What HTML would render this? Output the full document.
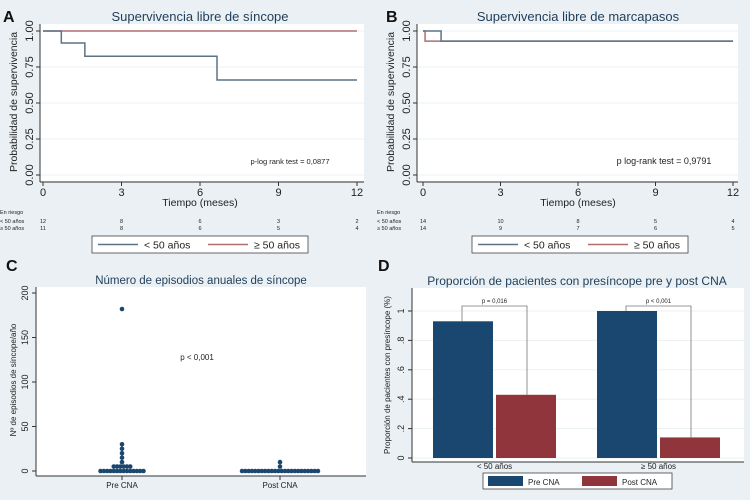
<!DOCTYPE html>
<html><head><meta charset="utf-8">
<style>
html,body{margin:0;padding:0;background:#eaf0f3;}
svg{display:block;font-family:"Liberation Sans",Arial,sans-serif;}
</style></head>
<body>
<svg id="fig" width="750" height="500" viewBox="0 0 750 500"></svg>
<script>
// ---- Data ----
// Panel A (Kaplan-Meier: syncope-free survival)
const kmA_young_t = [0, 0.7, 1.6, 6.65, 12];
const kmA_young_s = [1, 0.917, 0.825, 0.66, 0.66];
const kmA_old_t = [0, 12];
const kmA_old_s = [1, 1];
const riskA_young = [12, 8, 6, 3, 2];
const riskA_old = [11, 8, 6, 5, 4];
// Panel B (pacemaker-free survival)
const kmB_young_t = [0, 0.7, 12];
const kmB_young_s = [1, 0.93, 0.93];
const kmB_old_t = [0, 0.08, 12];
const kmB_old_s = [1, 0.93, 0.93];
const riskB_young = [14, 10, 8, 5, 4];
const riskB_old = [14, 9, 7, 6, 5];
const timeTicks = [0, 3, 6, 9, 12];
const survTicks = [0, 0.25, 0.5, 0.75, 1];
const survTickLabels = ["0.00", "0.25", "0.50", "0.75", "1.00"];
// Panel C (dot plot)
const dotCategories = ["Pre CNA", "Post CNA"];
const preValues = [0,0,0,0,0,0,0,0,0,0,0,0,0,0,5,5,5,5,5,5,10,15,20,25,30,182];
const postValues = [0,0,0,0,0,0,0,0,0,0,0,0,0,0,0,0,0,0,0,0,0,0,0,0,5,10];
const countTicks = [0, 50, 100, 150, 200];
// Panel D (bars)
const barCategories = ["< 50 años", "\u2265 50 años"];
const preProp = [0.93, 1.0];
const postProp = [0.43, 0.14];
const pLabels = ["p = 0,016", "p < 0,001"];
const propTicks = [0, 0.2, 0.4, 0.6, 0.8, 1];
const propTickLabels = ["0", ".2", ".4", ".6", ".8", "1"];

const NS = "http://www.w3.org/2000/svg";
const svg = document.getElementById("fig");
function mk(tag, attrs, parent, txt) {
  const e = document.createElementNS(NS, tag);
  for (const k in attrs) e.setAttribute(k, attrs[k]);
  if (txt !== undefined) e.textContent = txt;
  (parent || svg).appendChild(e);
  return e;
}
const NAVY = "#1a476f", RED = "#90353b", KMG = "#5d7384", KMR = "#b06e6e", TXT = "#222";

function kmPanel(o) {
  const g = mk("g", {});
  
  
  const x = t => o.x0 + (t / 12) * (o.x1 - o.x0);
  const y = s => o.y0 - s * (o.y0 - o.y1);
  let e = mk("rect", {x: o.px0, y: 24, width: o.px1 - o.px0, height: 157, fill: "#fff"}, g);
  
  
  survTicks.forEach((s, i) => {
    e = mk("line", {x1: o.px0, x2: o.px1, y1: y(s), y2: y(s), stroke: "#eaf0f3", "stroke-width": 1}, g);
    
    
    mk("line", {x1: o.px0 - 4, x2: o.px0, y1: y(s), y2: y(s), stroke: "#333"}, g);
    e = mk("text", {x: o.px0 - 7, y: y(s), "font-size": 11, fill: TXT, "text-anchor": "middle",
      transform: `rotate(-90 ${o.px0 - 7} ${y(s)})`}, g, survTickLabels[i]);
    
    
  });
  mk("line", {x1: o.px0, x2: o.px0, y1: 24, y2: 182, stroke: "#333"}, g);
  mk("line", {x1: o.px0, x2: o.px1, y1: 182, y2: 182, stroke: "#333"}, g);
  timeTicks.forEach(t => {
    mk("line", {x1: x(t), x2: x(t), y1: 182, y2: 186, stroke: "#333"}, g);
    e = mk("text", {x: x(t), y: 196, "font-size": 11, fill: TXT, "text-anchor": "middle"}, g, t);
    
    
  });
  e = mk("text", {x: (o.x0 + o.x1) / 2, y: 206, "font-size": 10.5, fill: TXT, "text-anchor": "middle"}, g, "Tiempo (meses)");
  
  
  e = mk("text", {x: o.px0 - 23, y: 102, "font-size": 10.5, fill: TXT, "text-anchor": "middle",
    transform: `rotate(-90 ${o.px0 - 23} 102)`}, g, "Probabilidad de supervivencia");
  
  
  e = mk("text", {x: (o.x0 + o.x1) / 2, y: 21, "font-size": 13, fill: "#1f3e5a", "text-anchor": "middle"}, g, o.title);
  
  
  e = mk("text", {x: o.lx, y: 22, "font-size": 16, "font-weight": "bold", fill: "#111"}, g, o.letter);
  
  
  e = mk("text", {x: o.px, y: 164, "font-size": o.pfs, fill: TXT, "text-anchor": "middle"}, g, o.ptext);
  
  
  function step(ts, ss, col, nm) {
    let d = `M${x(ts[0])},${y(ss[0])}`;
    for (let i = 1; i < ts.length; i++) d += ` H${x(ts[i])} V${y(ss[i])}`;
    const p = mk("path", {d, fill: "none", stroke: col, "stroke-width": 1.5}, g);
    
    
  }
  step(o.oldT, o.oldS, KMR, "km-curve-50-plus");
  step(o.youngT, o.youngS, KMG, "km-curve-under-50");
  e = mk("text", {x: o.rx, y: 214, "font-size": 5.5, fill: TXT}, g, "En riesgo");
  
  
  mk("text", {x: o.rx, y: 223, "font-size": 5.5, fill: TXT}, g, "< 50 años");
  mk("text", {x: o.rx, y: 230, "font-size": 5.5, fill: TXT}, g, "\u2265 50 años");
  timeTicks.forEach((t, i) => {
    e = mk("text", {x: x(t), y: 223, "font-size": 5.5, fill: TXT, "text-anchor": "middle"}, g, o.riskY[i]);
    
    
    e = mk("text", {x: x(t), y: 230, "font-size": 5.5, fill: TXT, "text-anchor": "middle"}, g, o.riskO[i]);
    
    
  });
  const lg = mk("g", {}, g);
  
  
  mk("rect", {x: o.lgx, y: 236, width: 216, height: 17, fill: "#fff", stroke: "#444", "stroke-width": 0.8}, lg);
  mk("line", {x1: o.lgx + 6, x2: o.lgx + 46, y1: 244.5, y2: 244.5, stroke: KMG, "stroke-width": 1.4}, lg);
  e = mk("text", {x: o.lgx + 52, y: 248.5, "font-size": 10.5, fill: TXT}, lg, "< 50 años");
  
  
  mk("line", {x1: o.lgx + 116, x2: o.lgx + 156, y1: 244.5, y2: 244.5, stroke: KMR, "stroke-width": 1.4}, lg);
  e = mk("text", {x: o.lgx + 162, y: 248.5, "font-size": 10.5, fill: TXT}, lg, "\u2265 50 años");
  
  
}

kmPanel({name: "panel-a-syncope-survival", x0: 43, x1: 357, px0: 40, px1: 364, y0: 175, y1: 31,
  title: "Supervivencia libre de síncope", letter: "A", lx: 3, px: 290, ptext: "p-log rank test = 0,0877", pfs: 7.5,
  youngT: kmA_young_t, youngS: kmA_young_s, oldT: kmA_old_t, oldS: kmA_old_s,
  riskY: riskA_young, riskO: riskA_old, rx: 0, lgx: 92});
kmPanel({name: "panel-b-pacemaker-survival", x0: 423, x1: 733, px0: 417, px1: 738, y0: 175, y1: 31,
  title: "Supervivencia libre de marcapasos", letter: "B", lx: 386, px: 664, ptext: "p log-rank test = 0,9791", pfs: 9,
  youngT: kmB_young_t, youngS: kmB_young_s, oldT: kmB_old_t, oldS: kmB_old_s,
  riskY: riskB_young, riskO: riskB_old, rx: 377, lgx: 472});

(function () {
  const g = mk("g", {});
  
  
  const y = v => 471 - (v / 200) * (471 - 293);
  const cx = [122, 280];
  let e = mk("rect", {x: 36, y: 287, width: 330, height: 189, fill: "#fff"}, g);
  
  
  countTicks.forEach(v => {
    mk("line", {x1: 32, x2: 36, y1: y(v), y2: y(v), stroke: "#333"}, g);
    e = mk("text", {x: 28, y: y(v), "font-size": 9, fill: TXT, "text-anchor": "middle",
      transform: `rotate(-90 28 ${y(v)})`}, g, v);
    
    
  });
  mk("line", {x1: 36, x2: 36, y1: 287, y2: 476, stroke: "#333"}, g);
  mk("line", {x1: 36, x2: 366, y1: 476, y2: 476, stroke: "#333"}, g);
  dotCategories.forEach((c, i) => {
    mk("line", {x1: cx[i], x2: cx[i], y1: 476, y2: 480, stroke: "#333"}, g);
    e = mk("text", {x: cx[i], y: 488, "font-size": 8, fill: TXT, "text-anchor": "middle"}, g, c);
    
    
  });
  e = mk("text", {x: 16, y: 380, "font-size": 8, fill: TXT, "text-anchor": "middle",
    transform: "rotate(-90 16 380)"}, g, "Nº de episodios de síncope/año");
  
  
  e = mk("text", {x: 201, y: 284, "font-size": 11.5, fill: "#1f3e5a", "text-anchor": "middle"}, g, "Número de episodios anuales de síncope");
  
  
  e = mk("text", {x: 6, y: 271, "font-size": 16, "font-weight": "bold", fill: "#111"}, g, "C");
  
  
  e = mk("text", {x: 197, y: 360, "font-size": 8, fill: TXT, "text-anchor": "middle"}, g, "p < 0,001");
  
  
  [preValues, postValues].forEach((vals, ci) => {
    const groups = {};
    vals.forEach(v => { groups[v] = (groups[v] || 0) + 1; });
    Object.keys(groups).forEach(k => {
      const n = groups[k];
      for (let j = 0; j < n; j++) {
        const px = cx[ci] + (j - (n - 1) / 2) * 3.3;
        const d = mk("circle", {cx: px, cy: y(+k), r: 2.3, fill: NAVY}, g);
        
        
      }
    });
  });
})();

(function () {
  const g = mk("g", {});
  
  
  const y = v => 458 - v * (458 - 311);
  const gx = [433, 597]; const bw = 60; const gap = 3;
  let e = mk("rect", {x: 412, y: 288, width: 332, height: 174, fill: "#fff"}, g);
  
  
  propTicks.forEach((v, i) => {
    e = mk("line", {x1: 412, x2: 744, y1: y(v), y2: y(v), stroke: "#eaf0f3"}, g);
    
    
    mk("line", {x1: 408, x2: 412, y1: y(v), y2: y(v), stroke: "#333"}, g);
    e = mk("text", {x: 404, y: y(v), "font-size": 9, fill: TXT, "text-anchor": "middle",
      transform: `rotate(-90 404 ${y(v)})`}, g, propTickLabels[i]);
    
    
  });
  mk("line", {x1: 412, x2: 412, y1: 288, y2: 462, stroke: "#333"}, g);
  mk("line", {x1: 412, x2: 744, y1: 462, y2: 462, stroke: "#333"}, g);
  barCategories.forEach((c, i) => {
    const b1 = mk("rect", {x: gx[i], y: y(preProp[i]), width: bw, height: y(0) - y(preProp[i]), fill: NAVY}, g);
    
    
    const x2 = gx[i] + bw + gap;
    const b2 = mk("rect", {x: x2, y: y(postProp[i]), width: bw, height: y(0) - y(postProp[i]), fill: RED}, g);
    
    
    const lx = gx[i] + 29, rx = x2 + 31, top = 306;
    const br = mk("path", {d: `M${lx},${y(preProp[i])} V${top} H${rx} V${y(postProp[i])}`, fill: "none", stroke: "#777", "stroke-width": 0.8}, g);
    
    
    e = mk("text", {x: (lx + rx) / 2, y: 303, "font-size": 6, fill: TXT, "text-anchor": "middle"}, g, pLabels[i]);
    
    
    e = mk("text", {x: gx[i] + bw + gap / 2, y: 469, "font-size": 8, fill: TXT, "text-anchor": "middle"}, g, c);
    
    
  });
  e = mk("text", {x: 390, y: 375, "font-size": 8, fill: TXT, "text-anchor": "middle",
    transform: "rotate(-90 390 375)"}, g, "Proporción de pacientes con presíncope (%)");
  
  
  e = mk("text", {x: 577, y: 285, "font-size": 12, fill: "#1f3e5a", "text-anchor": "middle"}, g, "Proporción de pacientes con presíncope pre y post CNA");
  
  
  e = mk("text", {x: 378, y: 271, "font-size": 16, "font-weight": "bold", fill: "#111"}, g, "D");
  
  
  const lg = mk("g", {}, g);
  
  
  mk("rect", {x: 483, y: 473, width: 189, height: 16, fill: "#fff", stroke: "#444", "stroke-width": 0.8}, lg);
  mk("rect", {x: 488, y: 476, width: 35, height: 10, fill: NAVY}, lg);
  e = mk("text", {x: 528, y: 485, "font-size": 8, fill: TXT}, lg, "Pre CNA");
  
  
  mk("rect", {x: 582, y: 476, width: 35, height: 10, fill: RED}, lg);
  e = mk("text", {x: 622, y: 485, "font-size": 8, fill: TXT}, lg, "Post CNA");
  
  
})();
</script>
</body></html>
